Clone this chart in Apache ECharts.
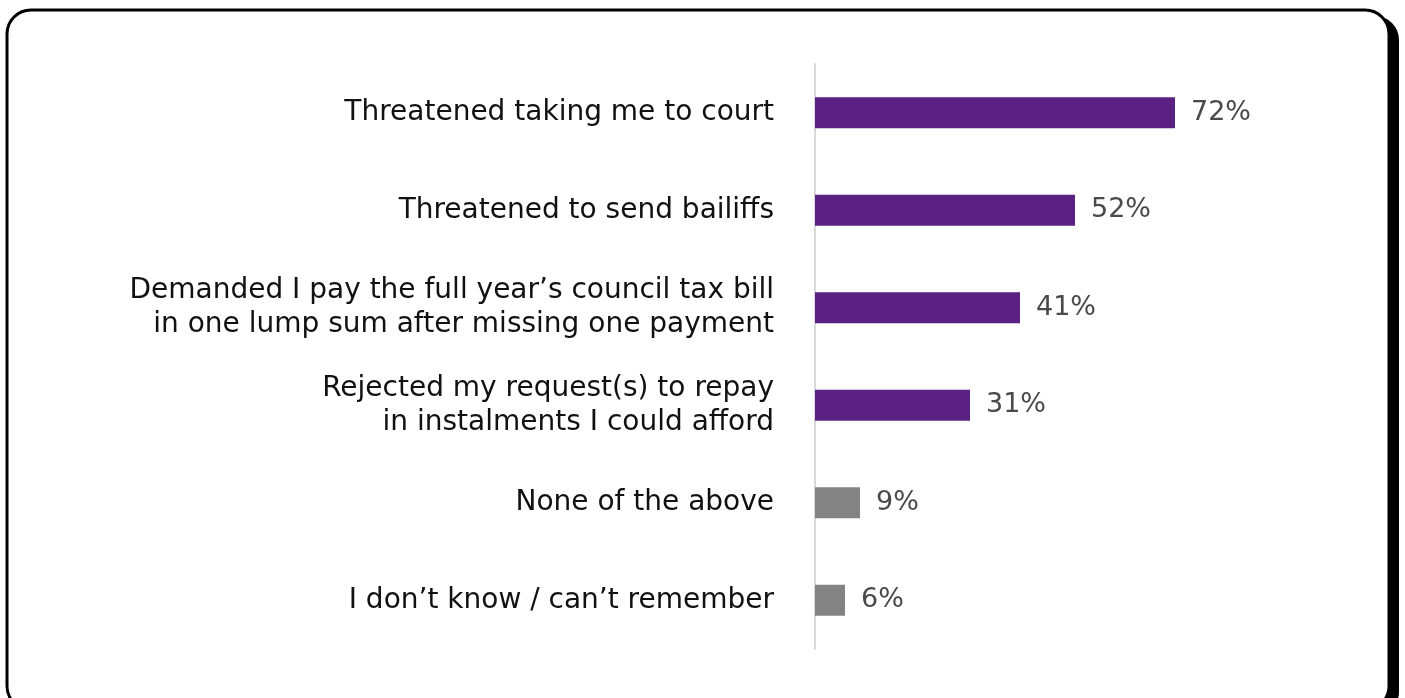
<!DOCTYPE html>
<html>
<head>
<meta charset="utf-8">
<style>
  html, body { margin: 0; padding: 0; background: #ffffff; }
  #chart { width: 1405px; height: 698px; }
</style>
<script src="https://cdn.jsdelivr.net/npm/echarts@6/dist/echarts.min.js"></script>
</head>
<body>
<div id="chart"></div>
<script>
// Survey responses: actions taken by the council
const categories = [
  'Threatened taking me to court',
  'Threatened to send bailiffs',
  'Demanded I pay the full year\u2019s council tax bill\nin one lump sum after missing one payment',
  'Rejected my request(s) to repay\nin instalments I could afford',
  'None of the above',
  'I don\u2019t know / can\u2019t remember'
];
const values = [72, 52, 41, 31, 9, 6];
const barColors = ['#5a2182', '#5a2182', '#5a2182', '#5a2182', '#838383', '#838383'];

const chart = echarts.init(document.getElementById('chart'), null, { renderer: 'canvas' });

chart.setOption({
  animation: false,
  backgroundColor: '#ffffff',
  graphic: [
    {
      // solid offset shadow behind the card
      type: 'rect',
      z: -11,
      silent: true,
      shape: { x: 16, y: 16, width: 1383, height: 700, r: 24 },
      style: { fill: '#000000' }
    },
    {
      // card outline
      type: 'rect',
      z: -10,
      silent: true,
      shape: { x: 7, y: 10, width: 1382, height: 700, r: 24 },
      style: { fill: '#ffffff', stroke: '#000000', lineWidth: 3 }
    }
  ],
  grid: { left: 815, right: 90, top: 64, bottom: 49, containLabel: false },
  xAxis: {
    type: 'value',
    min: 0,
    max: 100,
    show: false
  },
  yAxis: {
    type: 'category',
    inverse: true,
    data: categories,
    axisLine: { show: true, lineStyle: { color: '#d9d9d9', width: 2 } },
    axisTick: { show: false },
    axisLabel: {
      margin: 41,
      color: '#111111',
      fontFamily: 'DejaVu Sans',
      fontSize: 28,
      lineHeight: 34,
      align: 'right'
    }
  },
  series: [{
    type: 'bar',
    data: values.map((v, i) => ({ value: v, itemStyle: { color: barColors[i] } })),
    barWidth: 31,
    label: {
      show: true,
      position: 'right',
      distance: 16,
      formatter: '{c}%',
      color: '#4a4a4a',
      fontFamily: 'DejaVu Sans',
      fontSize: 27
    }
  }]
});
</script>
</body>
</html>
